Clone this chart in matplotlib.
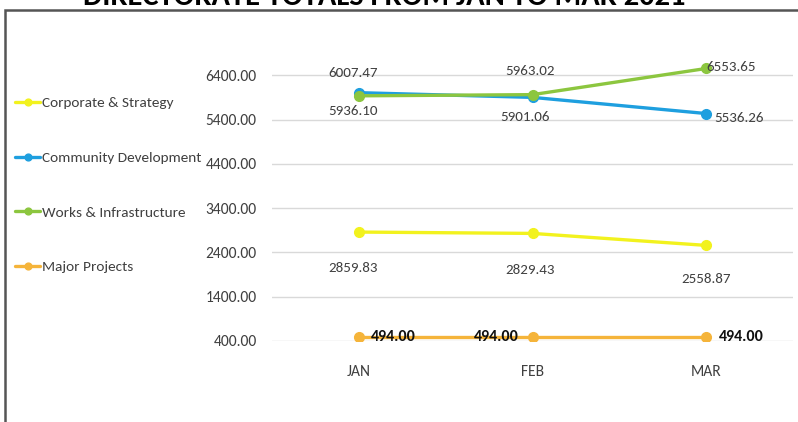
import matplotlib.pyplot as plt
from matplotlib import font_manager
from matplotlib.patches import Rectangle

# Data
months = ['JAN', 'FEB', 'MAR']
corporate = [2859.83, 2829.43, 2558.87]
community = [6007.47, 5901.06, 5536.26]
works = [5936.10, 5963.02, 6553.65]
major = [494.00, 494.00, 494.00]
y_ticks = [400, 1400, 2400, 3400, 4400, 5400, 6400]

# pick a Calibri-like font if there is one
have = set(f.name for f in font_manager.fontManager.ttflist)
fnt = [f for f in ['Carlito', 'Liberation Sans Narrow', 'Roboto Condensed', 'Open Sans Condensed',
                   'Asap Condensed', 'Barlow Semi Condensed'] if f in have][:1] + ['DejaVu Sans']
plt.rcParams['font.family'] = fnt
txt_col = '#404040'

fig = plt.figure(figsize=(7.98, 4.22), dpi=100)
ax = fig.add_axes([272/798, 81/422, 521/798, 310/422])

# outer frame, cut by the picture edges
fig.patches.append(Rectangle((5/798, -0.2), 1.2, 0.2 + 412/422, transform=fig.transFigure,
                             fill=False, edgecolor='#555555', linewidth=1.8, zorder=0))
fig.text(0.482, 1 - 5/422, 'DIRECTORATE TOTALS FROM JAN TO MAR 2021', ha='center', va='baseline',
         fontsize=22, fontweight='bold', color='black')

x = list(range(len(months)))
series = [('Corporate & Strategy', corporate, '#F2F21E'),
          ('Community Development', community, '#1E9FDF'),
          ('Works & Infrastructure', works, '#8CC63F'),
          ('Major Projects', major, '#F5B43A')]
for name, vals, col in series:
    ax.plot(x, vals, color=col, linewidth=2.4, marker='o', markersize=7, label=name,
            solid_capstyle='round')

# data label offsets (points)
offs = {
    'Corporate & Strategy': [(-4, -26), (-2, -26), (0, -24)],
    'Community Development': [(-4, 14), (-5, -14), (24, -3)],
    'Works & Infrastructure': [(-4, -11), (-2, 17), (18, 1)],
    'Major Projects': [(25, 0), (-26, 0), (25, 0)],
}
for name, vals, col in series:
    for i, v in enumerate(vals):
        dx, dy = offs[name][i]
        if name == 'Major Projects':
            ax.annotate('%.2f' % v, (i, v), xytext=(dx, dy), textcoords='offset points',
                        ha='center', va='center', fontsize=11.5, color='#111111', fontweight='bold')
        else:
            ax.annotate('%.2f' % v, (i, v), xytext=(dx, dy), textcoords='offset points',
                        ha='center', va='center', fontsize=10.8, color=txt_col)

ax.set_xlim(-0.5, 2.5)
ax.set_ylim(400, 7400)
ax.set_yticks(y_ticks)
ax.set_yticklabels(['%.2f' % t for t in y_ticks])
ax.set_xticks(x)
ax.set_xticklabels(months)
ax.tick_params(axis='both', length=0, labelsize=11.2, labelcolor=txt_col)
ax.tick_params(axis='x', pad=17)
ax.tick_params(axis='y', pad=11)
ax.grid(axis='y', color='#D9D9D9', linewidth=1)
ax.set_axisbelow(True)
for s in ax.spines.values():
    s.set_visible(False)

fig.legend(loc='center left', bbox_to_anchor=(15/798, 1 - 185/422), frameon=False,
           fontsize=11, handlelength=1.65, handletextpad=0.15, labelspacing=2.75,
           borderpad=0, borderaxespad=0, labelcolor=txt_col, markerscale=0.7)

fig.savefig('out.png', dpi=100)
